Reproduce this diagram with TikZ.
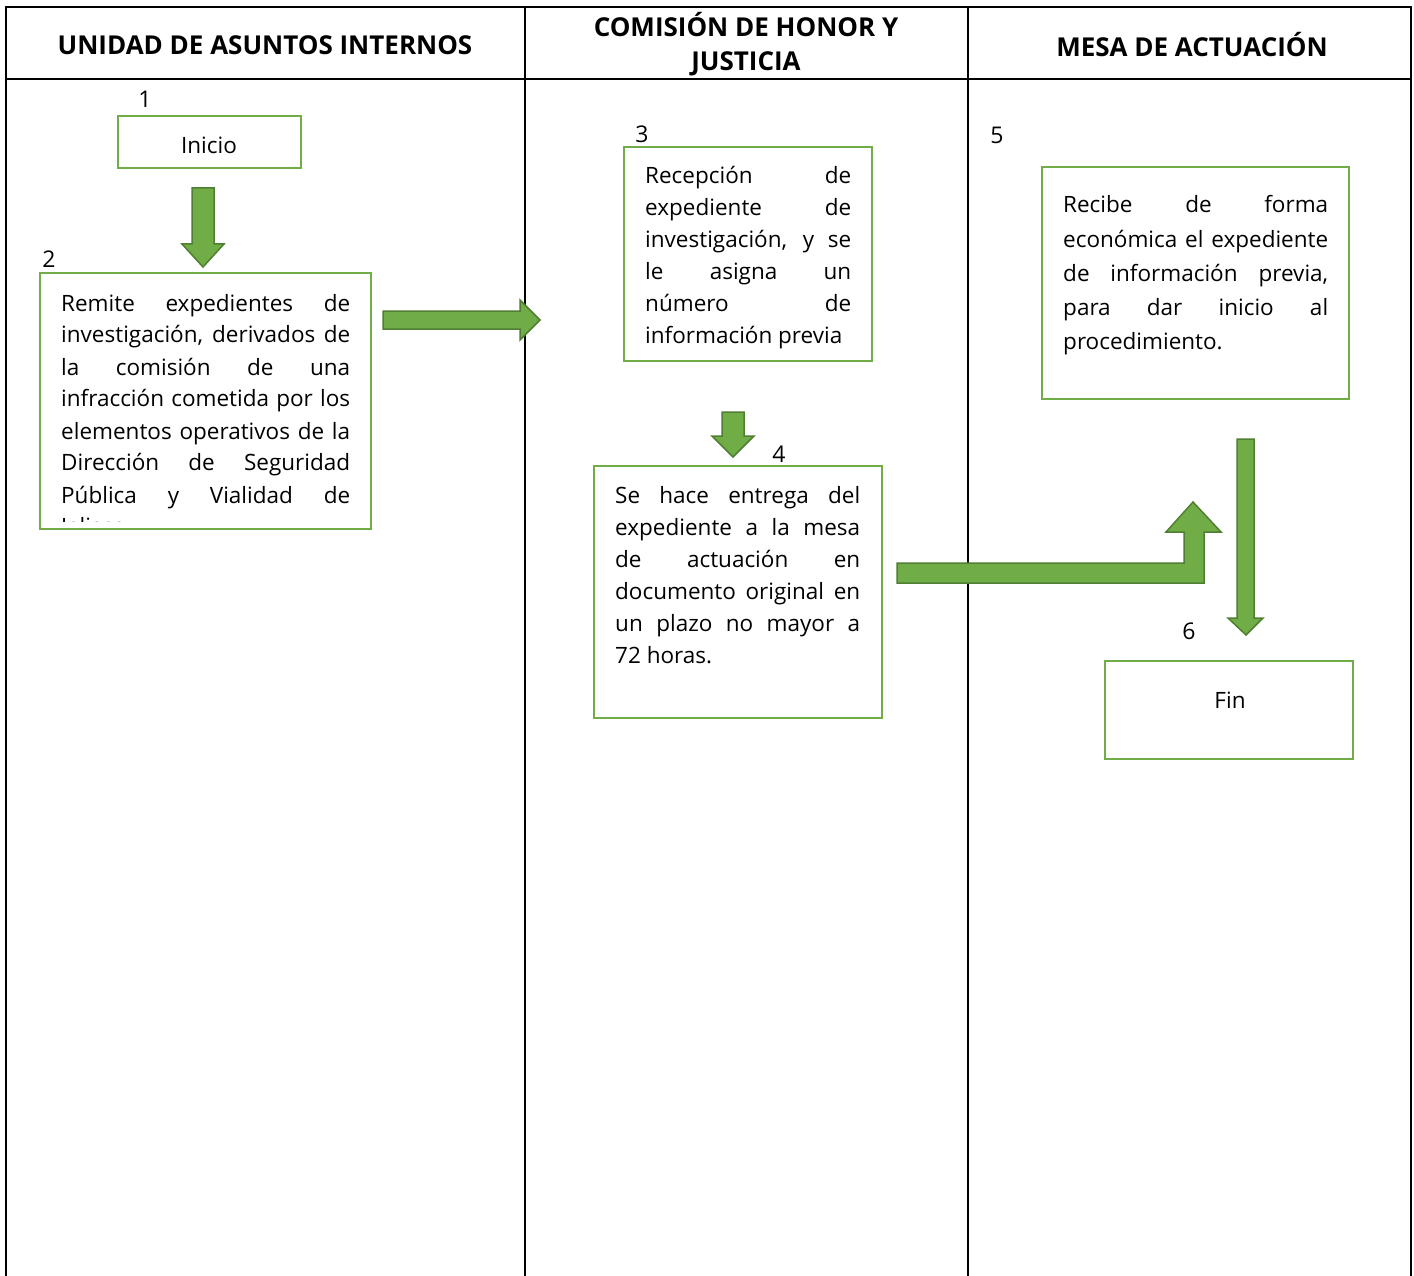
\documentclass[tikz,border=0pt]{standalone}
\usepackage{fontspec}
\setmainfont{Open Sans}
\usetikzlibrary{calc}
\definecolor{grn}{HTML}{70AD47}
\definecolor{dgrn}{HTML}{507E32}
\newcommand{\jl}[1]{\makebox[\linewidth][s]{#1}\\}
\tikzset{
  tbl/.style={line width=2pt, black},
  box/.style={draw=grn, line width=2.5pt, fill=white, inner sep=0pt},
  body/.style={font=\fontsize{22.5}{32}\selectfont, inner sep=0pt},
  num/.style={font=\fontsize{23}{25}\selectfont, inner sep=0pt},
  head/.style={font=\fontsize{26}{34}\selectfont\bfseries, align=center, inner sep=0pt},
  blk/.style={fill=grn, draw=dgrn, line width=1.5pt, line join=miter},
}
\begin{document}
\begin{tikzpicture}[x=1pt,y=-1pt]
\useasboundingbox (0,0) rectangle (1414,1276);
\fill[white] (0,0) rectangle (1414,1276);
% table
\draw[tbl] (6,1276) -- (6,7) -- (1411,7) -- (1411,1276);
\draw[tbl] (6,79) -- (1411,79);
\draw[tbl] (525,7) -- (525,1276);
\draw[tbl] (968,7) -- (968,1276);
\node[head] (h1) at (265,45) {UNIDAD DE ASUNTOS INTERNOS};
\node[head] (h2) at (746,44) {COMISIÓN DE HONOR Y\\JUSTICIA};
\node[head] (h3) at (1192,45) {MESA DE ACTUACIÓN};
% boxes
\node[box, minimum width=183pt, minimum height=52pt] (n1) at (209.5,142) {};
\node[body] (t1) at (209,145) {Inicio};
\node[box, minimum width=331pt, minimum height=256pt] (n2) at (205.5,401) {};
\node[box, minimum width=248pt, minimum height=214pt] (n3) at (748,254) {};
\node[box, minimum width=288pt, minimum height=252pt] (n4) at (738,592) {};
\node[box, minimum width=307pt, minimum height=232pt] (n5) at (1195.5,283) {};
\node[box, minimum width=248pt, minimum height=98pt] (n6) at (1229,710) {};
\node[body] (t6) at (1230,700) {Fin};
% numbers
\node[num] (l1) at (145,99) {1};
\node[num] (l2) at (49,259) {2};
\node[num] (l3) at (642,134) {3};
\node[num] (l4) at (779,454) {4};
\node[num] (l5) at (997,135) {5};
\node[num] (l6) at (1189,631) {6};
% texts
\begin{scope}
\clip (41.5,274.5) rectangle (369.5,521);
\node[body, anchor=base west] (t2) at (61,311) {\parbox[t]{289pt}{%
\jl{Remite expedientes de}%
\jl{investigación, derivados de}%
\jl{la comisión de una}%
\jl{infracción cometida por los}%
\jl{elementos operativos de la}%
\jl{Dirección de Seguridad}%
\jl{Pública y Vialidad de}%
Jalisco.}};
\end{scope}
\node[body, anchor=base west] (t3) at (645,184) {\parbox[t]{206pt}{%
\jl{Recepción de}%
\jl{expediente de}%
\jl{investigación, y se}%
\jl{le asigna un}%
\jl{número de}%
información previa}};
\node[body, anchor=base west] (t4) at (615,503) {\parbox[t]{245pt}{%
\jl{Se hace entrega del}%
\jl{expediente a la mesa}%
\jl{de actuación en}%
\jl{documento original en}%
\jl{un plazo no mayor a}%
72 horas.}};
\node[body, anchor=base west] (t5) at (1063,213) {\parbox[t]{265pt}{\fontsize{22.5}{34.2}\selectfont
\jl{Recibe de forma}%
\jl{económica el expediente}%
\jl{de información previa,}%
\jl{para dar inicio al}%
procedimiento.}};
% block arrows
\draw[blk] (192,188) -- (214,188) -- (214,244) -- (224,244) -- (203,267) -- (182,244) -- (192,244) -- cycle;
\draw[blk] (383,311) -- (520,311) -- (520,300) -- (540,320) -- (520,340) -- (520,329) -- (383,329) -- cycle;
\draw[blk] (722,412) -- (744,412) -- (744,436) -- (754,436) -- (733,457) -- (712,436) -- (722,436) -- cycle;
\draw[blk] (897,563) -- (1184,563) -- (1184,532) -- (1166,532) -- (1193,502) -- (1221,532) -- (1204,532) -- (1204,583) -- (897,583) -- cycle;
\draw[blk] (1237,439) -- (1254,439) -- (1254,618) -- (1263,618) -- (1246,635) -- (1228,618) -- (1237,618) -- cycle;
\end{tikzpicture}
\end{document}
